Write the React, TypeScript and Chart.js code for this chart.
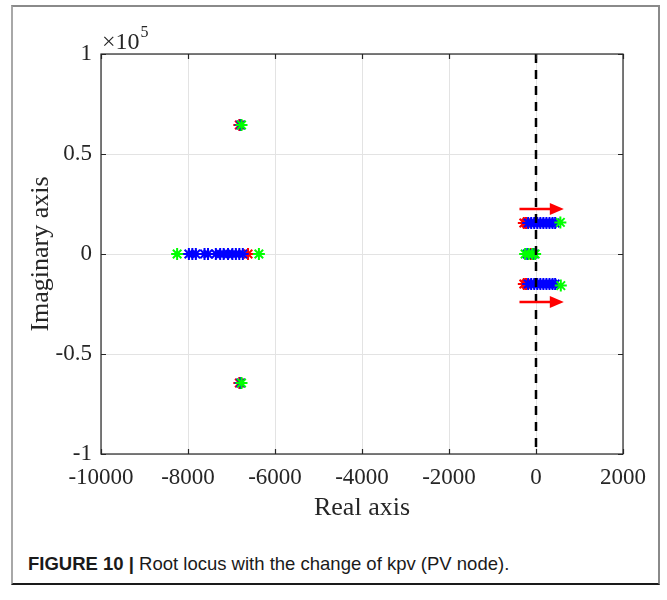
import React, { useEffect, useRef } from "react";
import { Chart, registerables } from "chart.js";

Chart.register(...registerables);

// ---- data ----
const xTicks = [-10000, -8000, -6000, -4000, -2000, 0, 2000];
const xTickLabels = ["-10000", "-8000", "-6000", "-4000", "-2000", "0", "2000"];
const yTicks = [-100000, -50000, 0, 50000, 100000];
const yTickLabels = ["-1", "-0.5", "0", "0.5", "1"];

// initial roots (red)
const redX = [-6620, -6820, -6820, -280, -230, -120, -280, -230];
const redY = [0, 64500, -64500, 15500, 15500, 0, -15000, -15000];

// intermediate roots (blue)
const blueX = [
  -7980, -7900, -7820, -7620, -7540, -7360, -7260, -7180, -7080, -6980, -6900, -6820, -6740,
  -6790, -6790,
  -180, -110, -40, 30, 100, 170, 240, 310, 380, 440,
  -200, -60,
  -180, -110, -40, 30, 100, 170, 240, 310, 380, 440,
];
const blueY = [
  0, 0, 0, 0, 0, 0, 0, 0, 0, 0, 0, 0, 0,
  64500, -64500,
  15500, 15500, 15500, 15500, 15500, 15500, 15500, 15500, 15500, 15500,
  0, 0,
  -15000, -15000, -15000, -15000, -15000, -15000, -15000, -15000, -15000, -15000,
];

// final roots (green)
const greenX = [-8250, -6370, -6770, -6770, 560, -250, -170, -80, -20, 570];
const greenY = [0, 0, 64500, -64500, 15800, 0, 0, 0, 0, -15800];

// arrows (direction of root movement)
const arrowStartX = [-380, -380];
const arrowEndX = [640, 640];
const arrowY = [22500, -24000];

const toPts = (xs: number[], ys: number[]) => xs.map((x, i) => ({ x, y: ys[i] }));

const serif = "'Liberation Serif', 'Times New Roman', serif";

const framePlugin = {
  id: "matlabFrame",
  afterDraw(chart: any) {
    const { ctx, chartArea: a, scales } = chart;
    const xs = scales.x;
    const ys = scales.y;
    ctx.save();
    // arrows
    ctx.strokeStyle = "#ff0000";
    ctx.fillStyle = "#ff0000";
    ctx.lineWidth = 2.5;
    for (let i = 0; i < arrowY.length; i++) {
      const x0 = xs.getPixelForValue(arrowStartX[i]);
      const x1 = xs.getPixelForValue(arrowEndX[i]);
      const y = ys.getPixelForValue(arrowY[i]);
      const head = 14;
      ctx.beginPath();
      ctx.moveTo(x0, y);
      ctx.lineTo(x1 - head + 2, y);
      ctx.stroke();
      ctx.beginPath();
      ctx.moveTo(x1, y);
      ctx.lineTo(x1 - head, y - 6);
      ctx.lineTo(x1 - head, y + 6);
      ctx.closePath();
      ctx.fill();
    }
    // box
    ctx.strokeStyle = "#262626";
    ctx.lineWidth = 1.2;
    ctx.strokeRect(a.left, a.top, a.right - a.left, a.bottom - a.top);
    // inner ticks
    ctx.beginPath();
    const tl = 5;
    xTicks.forEach((v) => {
      const px = Math.round(xs.getPixelForValue(v)) + 0.5;
      ctx.moveTo(px, a.bottom);
      ctx.lineTo(px, a.bottom - tl);
      ctx.moveTo(px, a.top);
      ctx.lineTo(px, a.top + tl);
    });
    yTicks.forEach((v) => {
      const py = Math.round(ys.getPixelForValue(v)) + 0.5;
      ctx.moveTo(a.left, py);
      ctx.lineTo(a.left + tl, py);
      ctx.moveTo(a.right, py);
      ctx.lineTo(a.right - tl, py);
    });
    ctx.stroke();
    // exponent label
    ctx.fillStyle = "#262626";
    ctx.textBaseline = "alphabetic";
    ctx.textAlign = "left";
    ctx.font = `24px ${serif}`;
    ctx.fillText("\u00d710", a.left + 1, a.top - 5);
    const w = ctx.measureText("\u00d710").width;
    ctx.font = `16px ${serif}`;
    ctx.fillText("5", a.left + 2 + w, a.top - 17);
    ctx.restore();
  },
};

export default function App() {
  const ref = useRef<HTMLCanvasElement | null>(null);

  useEffect(() => {
    document.body.style.margin = "0";
    if (!ref.current) return;
    const star = (color: string, data: any[], order: number) => ({
      type: "scatter" as const,
      data,
      pointStyle: "star",
      pointRadius: 6,
      pointBorderWidth: 2,
      borderColor: color,
      backgroundColor: color,
      pointHoverRadius: 6,
      order,
    });
    const chart = new Chart(ref.current, {
      type: "scatter",
      data: {
        datasets: [
          {
            type: "line" as const,
            data: [
              { x: 0, y: 100000 },
              { x: 0, y: -100000 },
            ],
            borderColor: "#000000",
            borderWidth: 2.5,
            borderDash: [9, 7],
            pointRadius: 0,
            fill: false,
            order: 0,
          } as any,
          star("#ff0000", toPts(redX, redY), 3),
          star("#0000ff", toPts(blueX, blueY), 2),
          star("#00ff00", toPts(greenX, greenY), 1),
        ],
      },
      options: {
        responsive: false,
        animation: false,
        events: [],
        layout: { padding: { left: 0, right: 44, top: 54, bottom: 0 } },
        plugins: { legend: { display: false }, tooltip: { enabled: false } },
        scales: {
          x: {
            type: "linear",
            min: -10000,
            max: 2000,
            afterBuildTicks: (s: any) => {
              s.ticks = xTicks.map((v) => ({ value: v }));
            },
            afterFit: (s: any) => {
              s.height = 76;
            },
            grid: { color: "#e3e3e3", drawTicks: false, lineWidth: 1 },
            border: { display: false },
            ticks: {
              padding: 10,
              color: "#262626",
              font: { family: serif, size: 23 },
              maxRotation: 0,
              autoSkip: false,
              callback: (v: any) => {
                const i = xTicks.indexOf(Number(v));
                return i >= 0 ? xTickLabels[i] : "";
              },
            },
            title: {
              display: true,
              text: "Real axis",
              color: "#262626",
              font: { family: serif, size: 26 },
              padding: { top: 0, bottom: 6 },
            },
          },
          y: {
            type: "linear",
            min: -100000,
            max: 100000,
            afterBuildTicks: (s: any) => {
              s.ticks = yTicks.map((v) => ({ value: v }));
            },
            afterFit: (s: any) => {
              s.width = 101;
            },
            grid: { color: "#e3e3e3", drawTicks: false, lineWidth: 1 },
            border: { display: false },
            ticks: {
              padding: 9,
              color: "#262626",
              font: { family: serif, size: 23 },
              autoSkip: false,
              callback: (v: any) => {
                const i = yTicks.indexOf(Number(v));
                return i >= 0 ? yTickLabels[i] : "";
              },
            },
            title: {
              display: true,
              text: "Imaginary axis",
              color: "#262626",
              font: { family: serif, size: 26 },
              padding: { top: 26, bottom: 0 },
            },
          },
        },
      },
      plugins: [framePlugin],
    } as any);
    return () => chart.destroy();
  }, []);

  return (
    <div style={{ position: "relative", width: 667, height: 600, background: "#fff" }}>
      <div
        style={{
          position: "absolute",
          left: 11,
          top: 5,
          width: 649,
          height: 580,
          borderLeft: "2px solid #a8a8a8",
          borderTop: "2px solid #8a8a8a",
          borderRight: "2px solid #8a8a8a",
          borderBottom: "2px solid #1a1a1a",
          boxSizing: "border-box",
        }}
      />
      <canvas
        ref={ref}
        width={667}
        height={530}
        style={{ position: "absolute", left: 0, top: 0, width: 667, height: 530 }}
      />
      <div
        style={{
          position: "absolute",
          left: 28,
          top: 553,
          fontFamily: "'Liberation Sans', Arial, sans-serif",
          fontSize: 18.5,
          color: "#1a1a1a",
          whiteSpace: "nowrap",
          lineHeight: "22px",
        }}
      >
        <span style={{ fontWeight: "bold" }}>FIGURE 10 | </span>
        <span>Root locus with the change of kpv (PV node).</span>
      </div>
    </div>
  );
}
